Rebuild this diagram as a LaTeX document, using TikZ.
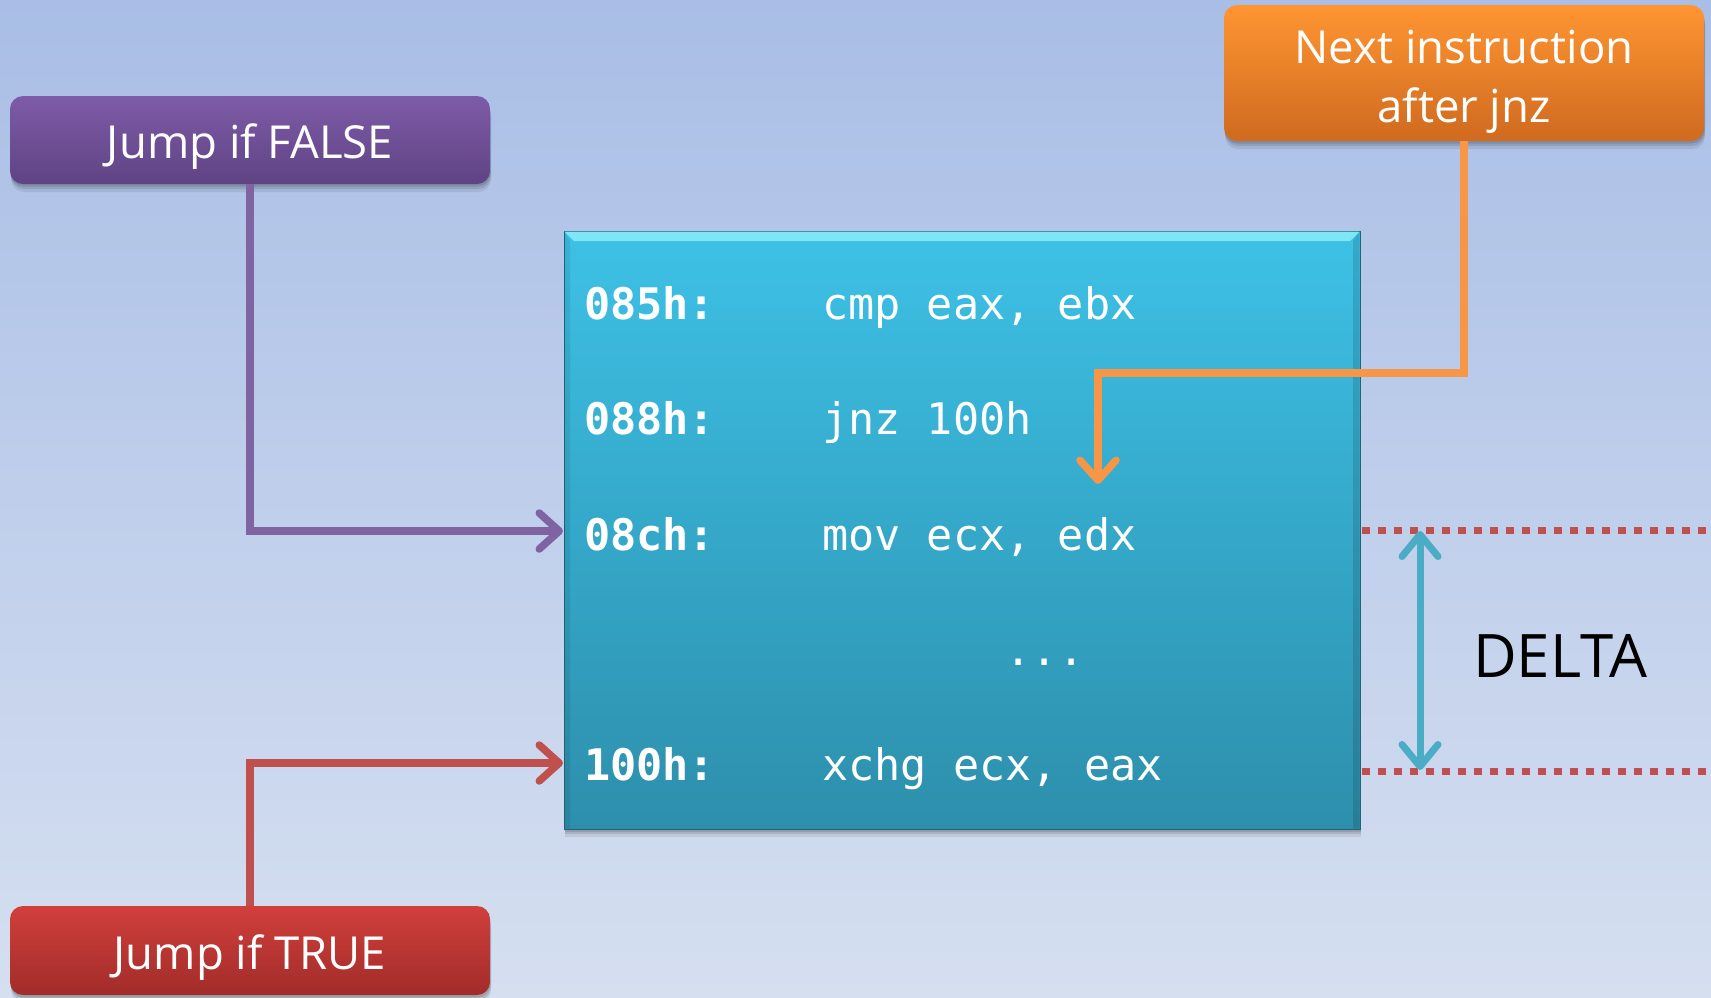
\documentclass[tikz,border=0pt]{standalone}
\usepackage{fontspec}
\setmainfont{Open Sans}
\newfontfamily\codefont{DejaVu Sans Mono}
\usetikzlibrary{arrows.meta,calc}

\definecolor{bgtop}{HTML}{A9BEE6}
\definecolor{bgbot}{HTML}{D5DFF0}
\definecolor{purptop}{HTML}{7E5BA8}
\definecolor{purpbot}{HTML}{5F4383}
\definecolor{orgtop}{HTML}{FF9532}
\definecolor{orgbot}{HTML}{CF6A1F}
\definecolor{redtop}{HTML}{D13F3B}
\definecolor{redbot}{HTML}{A12C2A}
\definecolor{cyantop}{HTML}{3DC1E6}
\definecolor{cyanbot}{HTML}{2D8FAC}
\definecolor{cyanrim}{HTML}{7FE6F7}
\definecolor{purpline}{HTML}{8064A2}
\definecolor{orgline}{HTML}{F79646}
\definecolor{redline}{HTML}{C0504D}
\definecolor{deltaline}{HTML}{4BACC6}

% lower a label inside its box without changing the box size
\newcommand{\lowered}[2]{\raisebox{-#1}[\height][\depth]{#2}}

\tikzset{
  soft shadow/.style={
    preaction={fill=black, opacity=0.08, transform canvas={xshift=1pt, yshift=-8pt}},
    preaction={fill=black, opacity=0.10, transform canvas={xshift=1pt, yshift=-5pt}},
    preaction={fill=black, opacity=0.12, transform canvas={xshift=0.5pt, yshift=-2.5pt}}},
  label box/.style={rounded corners=13pt, minimum width=480pt, inner sep=0pt,
    align=center, text=white, font=\fontsize{45.5}{59}\selectfont, soft shadow},
  addr/.style={anchor=base west, inner sep=0pt, text=white,
    font=\codefont\bfseries\fontsize{43.5}{50}\selectfont},
  instr/.style={anchor=base west, inner sep=0pt, text=white,
    font=\codefont\fontsize{43.5}{50}\selectfont},
  link/.style={line width=7.5pt, -{Straight Barb[length=20pt,width=36pt,round]}},
  marker/.style={redline, line width=7pt, dash pattern=on 8pt off 8pt},
}

\begin{document}
\begin{tikzpicture}[x=1pt, y=-1pt]
  % page and background gradient
  \useasboundingbox (0,0) rectangle (1711,997);
  \shade[top color=bgtop, bottom color=bgbot] (0,0) rectangle (1711,997);

  % code listing block
  \node[minimum width=796pt, minimum height=598pt, inner sep=0pt,
        top color=cyantop, bottom color=cyanbot, draw=cyanbot!70!black, line width=1pt,
        soft shadow]
        (code) at (962,530) {};
  \fill[cyanrim] (564.5,231.5) -- (1359.5,231.5) -- (1350,241) -- (574,241) -- cycle;
  \fill[black, opacity=0.12] (1353,241) -- (1359.5,232) -- (1359.5,828.5) -- (1353,828.5) -- cycle;
  \fill[black, opacity=0.08] (564.5,232) -- (570,241) -- (570,828.5) -- (564.5,828.5) -- cycle;

  \node[addr]  (a1) at (584,319) {085h:};
  \node[instr] (i1) at (822,319) {cmp eax, ebx};
  \node[addr]  (a2) at (584,434) {088h:};
  \node[instr] (i2) at (822,434) {jnz 100h};
  \node[addr]  (a3) at (584,550) {08ch:};
  \node[instr] (i3) at (822,550) {mov ecx, edx};
  \node[instr, anchor=base] (dots) at (1045,665) {...};
  \node[addr]  (a4) at (584,780) {100h:};
  \node[instr] (i4) at (822,780) {xchg ecx, eax};

  % labels
  \node[label box, minimum height=88pt, top color=purptop, bottom color=purpbot]
        (false) at (250,140) {\lowered{7pt}{Jump if FALSE}};
  \node[label box, minimum height=89pt, top color=redtop, bottom color=redbot]
        (true) at (250,950.5) {\lowered{7pt}{Jump if TRUE}};
  \node[label box, minimum height=136pt, top color=orgtop, bottom color=orgbot]
        (next) at (1464,73)
        {\lowered{8pt}{\begin{tabular}{@{}c@{}}Next instruction\\after jnz\end{tabular}}};

  % entry points on the listing
  \coordinate (inFalse) at (563,531);
  \coordinate (inTrue)  at (563,763);
  \coordinate (bendNext) at (1098,373);
  \coordinate (inNext)  at (1098,484);

  \draw[link, purpline] (false.south) |- (inFalse);
  \draw[link, redline] (true.north) |- (inTrue);
  \draw[link, orgline] (next.south) |- (bendNext) -- (inNext);

  % distance markers
  \coordinate (m1a) at (1362,530);
  \coordinate (m1b) at (1706,530);
  \coordinate (m2a) at (1362,771);
  \coordinate (m2b) at (1706,771);
  \draw[marker] (m1a) -- (m1b);
  \draw[marker] (m2a) -- (m2b);

  \coordinate (dTop) at (1420,531);
  \coordinate (dBot) at (1420,770);
  \draw[deltaline, line width=7pt,
        {Straight Barb[length=22pt,width=36pt,round]}-{Straight Barb[length=22pt,width=36pt,round]}]
        (dTop) -- (dBot);

  \node[font=\fontsize{60}{70}\selectfont, text=black, inner sep=0pt] (delta) at (1560,656) {DELTA};
\end{tikzpicture}
\end{document}
